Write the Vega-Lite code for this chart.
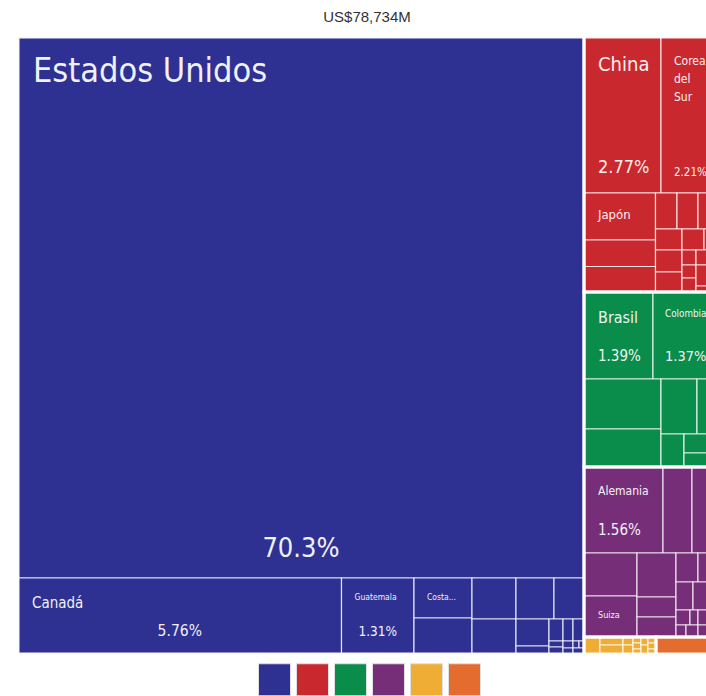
{
  "$schema": "https://vega.github.io/schema/vega-lite/v6.json",
  "autosize": {"type": "none"},
  "padding": {"left": 18, "top": 37, "right": 0, "bottom": 42},
  "width": 688,
  "height": 617,
  "background": "white",
  "title": {"text": "US$78,734M", "anchor": "middle", "dx": 5, "offset": 12, "font": "Liberation Sans", "fontSize": 15, "fontWeight": "normal", "color": "#333333"},
  "config": {"view": {"stroke": null}, "text": {"font": "DejaVu Sans Condensed", "color": "#ffffff", "opacity": 0.93}},
  "data": {"values": [
    {"name": "Estados Unidos", "region": "América del Norte", "share": 0.703, "x0": 0, "x1": 566, "y0": 0, "y1": 541},
    {"name": "Canadá", "region": "América del Norte", "share": 0.0576, "x0": 0, "x1": 323.5, "y0": 541, "y1": 617},
    {"name": "Guatemala", "region": "América del Norte", "share": 0.0131, "x0": 323.5, "x1": 396, "y0": 541, "y1": 617},
    {"name": "Costa Rica", "region": "América del Norte", "x0": 396, "x1": 454, "y0": 541, "y1": 581},
    {"name": "Honduras", "region": "América del Norte", "x0": 396, "x1": 454, "y0": 581, "y1": 617},
    {"name": "El Salvador", "region": "América del Norte", "x0": 454, "x1": 498, "y0": 541, "y1": 582},
    {"name": "Panamá", "region": "América del Norte", "x0": 454, "x1": 498, "y0": 582, "y1": 617},
    {"name": "Nicaragua", "region": "América del Norte", "x0": 498, "x1": 536, "y0": 541, "y1": 582},
    {"name": "Puerto Rico", "region": "América del Norte", "x0": 536, "x1": 566, "y0": 541, "y1": 582},
    {"name": "República Dominicana", "region": "América del Norte", "x0": 498, "x1": 531, "y0": 582, "y1": 609},
    {"name": "Jamaica", "region": "América del Norte", "x0": 498, "x1": 531, "y0": 609, "y1": 617},
    {"name": "Belice", "region": "América del Norte", "x0": 531, "x1": 545, "y0": 582, "y1": 604},
    {"name": "Trinidad y Tobago", "region": "América del Norte", "x0": 545, "x1": 555, "y0": 582, "y1": 604},
    {"name": "Cuba", "region": "América del Norte", "x0": 555, "x1": 566, "y0": 582, "y1": 604},
    {"name": "Haití", "region": "América del Norte", "x0": 531, "x1": 545, "y0": 604, "y1": 610},
    {"name": "Bahamas", "region": "América del Norte", "x0": 531, "x1": 545, "y0": 610, "y1": 617},
    {"name": "Barbados", "region": "América del Norte", "x0": 545, "x1": 555, "y0": 604, "y1": 611},
    {"name": "Aruba", "region": "América del Norte", "x0": 545, "x1": 555, "y0": 611, "y1": 617},
    {"name": "Curazao", "region": "América del Norte", "x0": 555, "x1": 561, "y0": 604, "y1": 611},
    {"name": "Islas Caimán", "region": "América del Norte", "x0": 561, "x1": 566, "y0": 604, "y1": 611},
    {"name": "Bermudas", "region": "América del Norte", "x0": 555, "x1": 566, "y0": 611, "y1": 617},

    {"name": "China", "region": "Asia", "share": 0.0277, "x0": 566, "x1": 643, "y0": 0, "y1": 156},
    {"name": "Corea del Sur", "region": "Asia", "share": 0.0221, "x0": 643, "x1": 703, "y0": 0, "y1": 156},
    {"name": "Japón", "region": "Asia", "x0": 566, "x1": 637.5, "y0": 156, "y1": 203},
    {"name": "India", "region": "Asia", "x0": 566, "x1": 637.5, "y0": 203, "y1": 229.5},
    {"name": "Taiwán", "region": "Asia", "x0": 566, "x1": 637.5, "y0": 229.5, "y1": 255},
    {"name": "Malasia", "region": "Asia", "x0": 637.5, "x1": 659, "y0": 156, "y1": 192},
    {"name": "Singapur", "region": "Asia", "x0": 659, "x1": 680, "y0": 156, "y1": 192},
    {"name": "Vietnam", "region": "Asia", "x0": 680, "x1": 703, "y0": 156, "y1": 192},
    {"name": "Hong Kong", "region": "Asia", "x0": 637.5, "x1": 664, "y0": 192, "y1": 213},
    {"name": "Tailandia", "region": "Asia", "x0": 664, "x1": 686, "y0": 192, "y1": 213},
    {"name": "Emiratos Árabes Unidos", "region": "Asia", "x0": 686, "x1": 703, "y0": 192, "y1": 213},
    {"name": "Indonesia", "region": "Asia", "x0": 637.5, "x1": 664, "y0": 213, "y1": 235},
    {"name": "Filipinas", "region": "Asia", "x0": 637.5, "x1": 664, "y0": 235, "y1": 255},
    {"name": "Israel", "region": "Asia", "x0": 664, "x1": 678, "y0": 213, "y1": 228},
    {"name": "Turquía", "region": "Asia", "x0": 664, "x1": 678, "y0": 228, "y1": 241},
    {"name": "Arabia Saudita", "region": "Asia", "x0": 664, "x1": 678, "y0": 241, "y1": 255},
    {"name": "Pakistán", "region": "Asia", "x0": 678, "x1": 703, "y0": 213, "y1": 228},
    {"name": "Bangladés", "region": "Asia", "x0": 678, "x1": 703, "y0": 228, "y1": 249},
    {"name": "Qatar", "region": "Asia", "x0": 678, "x1": 703, "y0": 249, "y1": 255},

    {"name": "Brasil", "region": "América del Sur", "share": 0.0139, "x0": 566, "x1": 635, "y0": 255, "y1": 342},
    {"name": "Colombia", "region": "América del Sur", "share": 0.0137, "x0": 635, "x1": 703, "y0": 255, "y1": 342},
    {"name": "Chile", "region": "América del Sur", "x0": 566, "x1": 643, "y0": 342, "y1": 392},
    {"name": "Perú", "region": "América del Sur", "x0": 566, "x1": 643, "y0": 392, "y1": 430},
    {"name": "Argentina", "region": "América del Sur", "x0": 643, "x1": 679, "y0": 342, "y1": 397},
    {"name": "Ecuador", "region": "América del Sur", "x0": 679, "x1": 703, "y0": 342, "y1": 397},
    {"name": "Venezuela", "region": "América del Sur", "x0": 643, "x1": 666, "y0": 397, "y1": 430},
    {"name": "Uruguay", "region": "América del Sur", "x0": 666, "x1": 703, "y0": 397, "y1": 416},
    {"name": "Paraguay", "region": "América del Sur", "x0": 666, "x1": 703, "y0": 416, "y1": 430},

    {"name": "Alemania", "region": "Europa", "share": 0.0156, "x0": 566, "x1": 645, "y0": 430, "y1": 516},
    {"name": "España", "region": "Europa", "x0": 645, "x1": 674, "y0": 430, "y1": 516},
    {"name": "Países Bajos", "region": "Europa", "x0": 674, "x1": 703, "y0": 430, "y1": 516},
    {"name": "Reino Unido", "region": "Europa", "x0": 566, "x1": 619, "y0": 516, "y1": 559},
    {"name": "Suiza", "region": "Europa", "x0": 566, "x1": 619, "y0": 559, "y1": 600},
    {"name": "Francia", "region": "Europa", "x0": 619, "x1": 658, "y0": 516, "y1": 560},
    {"name": "Italia", "region": "Europa", "x0": 619, "x1": 658, "y0": 560, "y1": 580},
    {"name": "Bélgica", "region": "Europa", "x0": 619, "x1": 658, "y0": 580, "y1": 600},
    {"name": "Irlanda", "region": "Europa", "x0": 658, "x1": 680, "y0": 516, "y1": 545},
    {"name": "Rusia", "region": "Europa", "x0": 680, "x1": 703, "y0": 516, "y1": 545},
    {"name": "Polonia", "region": "Europa", "x0": 658, "x1": 675, "y0": 545, "y1": 573},
    {"name": "Suecia", "region": "Europa", "x0": 675, "x1": 703, "y0": 545, "y1": 573},
    {"name": "Austria", "region": "Europa", "x0": 658, "x1": 672, "y0": 573, "y1": 588},
    {"name": "Portugal", "region": "Europa", "x0": 672, "x1": 680, "y0": 573, "y1": 588},
    {"name": "Dinamarca", "region": "Europa", "x0": 680, "x1": 703, "y0": 573, "y1": 588},
    {"name": "Hungría", "region": "Europa", "x0": 658, "x1": 668, "y0": 588, "y1": 600},
    {"name": "República Checa", "region": "Europa", "x0": 668, "x1": 680, "y0": 588, "y1": 600},
    {"name": "Noruega", "region": "Europa", "x0": 680, "x1": 703, "y0": 588, "y1": 600},

    {"name": "Sudáfrica", "region": "África", "x0": 566, "x1": 582, "y0": 600, "y1": 617},
    {"name": "Nigeria", "region": "África", "x0": 582, "x1": 605, "y0": 600, "y1": 608},
    {"name": "Egipto", "region": "África", "x0": 582, "x1": 605, "y0": 608, "y1": 617},
    {"name": "Marruecos", "region": "África", "x0": 605, "x1": 615, "y0": 600, "y1": 608},
    {"name": "Argelia", "region": "África", "x0": 605, "x1": 615, "y0": 608, "y1": 617},
    {"name": "Ghana", "region": "África", "x0": 615, "x1": 623, "y0": 600, "y1": 606},
    {"name": "Kenia", "region": "África", "x0": 615, "x1": 623, "y0": 606, "y1": 612},
    {"name": "Angola", "region": "África", "x0": 615, "x1": 623, "y0": 612, "y1": 617},
    {"name": "Túnez", "region": "África", "x0": 623, "x1": 630, "y0": 600, "y1": 608},
    {"name": "Etiopía", "region": "África", "x0": 623, "x1": 630, "y0": 608, "y1": 617},
    {"name": "Senegal", "region": "África", "x0": 630, "x1": 638, "y0": 600, "y1": 606},
    {"name": "Tanzania", "region": "África", "x0": 630, "x1": 638, "y0": 606, "y1": 612},
    {"name": "Costa de Marfil", "region": "África", "x0": 630, "x1": 638, "y0": 612, "y1": 617},

    {"name": "Australia", "region": "Oceanía", "x0": 638, "x1": 703, "y0": 600, "y1": 617}
  ]},
  "transform": [{"calculate": "(datum.x0 + datum.x1) / 2", "as": "xm"}],
  "layer": [
    {
      "mark": {"type": "rect", "clip": true, "stroke": "#ffffff", "strokeWidth": 1.2, "strokeOpacity": 0.8},
      "encoding": {
        "x": {"field": "x0", "type": "quantitative", "axis": null, "scale": {"domain": [0, 688], "nice": false, "zero": false}},
        "x2": {"field": "x1"},
        "y": {"field": "y0", "type": "quantitative", "axis": null, "scale": {"domain": [0, 617], "nice": false, "zero": false, "reverse": true}},
        "y2": {"field": "y1"},
        "color": {
          "field": "region", "type": "nominal",
          "scale": {"domain": ["América del Norte", "Asia", "América del Sur", "Europa", "África", "Oceanía"], "range": ["#2e3192", "#c9292e", "#0a8c4b", "#762e79", "#f0ad35", "#e46c2f"]},
          "legend": {"orient": "none", "legendX": 240, "legendY": 626, "direction": "horizontal", "columns": 6, "title": null, "labelExpr": "''", "labelOffset": 0, "labelFontSize": 1, "symbolType": "square", "symbolSize": 1024, "columnPadding": 1, "symbolStrokeColor": "#e0e0e0", "symbolStrokeWidth": 1, "symbolOpacity": 1, "padding": 0, "offset": 0}
        }
      }
    },
    {
      "transform": [{"aggregate": [{"op": "min", "field": "x0", "as": "rx0"}, {"op": "max", "field": "x1", "as": "rx1"}, {"op": "min", "field": "y0", "as": "ry0"}, {"op": "max", "field": "y1", "as": "ry1"}], "groupby": ["region"]}],
      "mark": {"type": "rect", "clip": true, "filled": false, "stroke": "#ffffff", "strokeWidth": 3, "strokeOpacity": 0.95},
      "encoding": {
        "x": {"field": "rx0", "type": "quantitative", "axis": null, "scale": {"domain": [0, 688], "nice": false, "zero": false}},
        "x2": {"field": "rx1"},
        "y": {"field": "ry0", "type": "quantitative", "axis": null, "scale": {"domain": [0, 617], "nice": false, "zero": false, "reverse": true}},
        "y2": {"field": "ry1"}
      }
    },
    {"transform": [{"filter": "datum.name == 'Estados Unidos'"}], "mark": {"type": "text", "clip": true, "align": "left", "baseline": "alphabetic", "fontSize": 34, "dx": 15, "dy": 45},
     "encoding": {"x": {"field": "x0", "type": "quantitative", "axis": null, "scale": {"domain": [0, 688], "nice": false, "zero": false}}, "y": {"field": "y0", "type": "quantitative", "axis": null, "scale": {"domain": [0, 617], "nice": false, "zero": false, "reverse": true}}, "text": {"field": "name"}}},
    {"transform": [{"filter": "datum.name == 'China'"}], "mark": {"type": "text", "clip": true, "align": "left", "baseline": "alphabetic", "fontSize": 20, "dx": 14, "dy": 34},
     "encoding": {"x": {"field": "x0", "type": "quantitative", "axis": null, "scale": {"domain": [0, 688], "nice": false, "zero": false}}, "y": {"field": "y0", "type": "quantitative", "axis": null, "scale": {"domain": [0, 617], "nice": false, "zero": false, "reverse": true}}, "text": {"field": "name"}}},
    {"transform": [{"filter": "datum.name == 'Corea del Sur'"}], "mark": {"type": "text", "clip": true, "align": "left", "baseline": "alphabetic", "fontSize": 12, "dx": 13, "dy": 28, "lineBreak": " ", "lineHeight": 18},
     "encoding": {"x": {"field": "x0", "type": "quantitative", "axis": null, "scale": {"domain": [0, 688], "nice": false, "zero": false}}, "y": {"field": "y0", "type": "quantitative", "axis": null, "scale": {"domain": [0, 617], "nice": false, "zero": false, "reverse": true}}, "text": {"field": "name"}}},
    {"transform": [{"filter": "datum.name == 'Japón'"}], "mark": {"type": "text", "clip": true, "align": "left", "baseline": "alphabetic", "fontSize": 13, "dx": 14, "dy": 26},
     "encoding": {"x": {"field": "x0", "type": "quantitative", "axis": null, "scale": {"domain": [0, 688], "nice": false, "zero": false}}, "y": {"field": "y0", "type": "quantitative", "axis": null, "scale": {"domain": [0, 617], "nice": false, "zero": false, "reverse": true}}, "text": {"field": "name"}}},
    {"transform": [{"filter": "datum.name == 'Brasil'"}], "mark": {"type": "text", "clip": true, "align": "left", "baseline": "alphabetic", "fontSize": 16, "dx": 14, "dy": 31},
     "encoding": {"x": {"field": "x0", "type": "quantitative", "axis": null, "scale": {"domain": [0, 688], "nice": false, "zero": false}}, "y": {"field": "y0", "type": "quantitative", "axis": null, "scale": {"domain": [0, 617], "nice": false, "zero": false, "reverse": true}}, "text": {"field": "name"}}},
    {"transform": [{"filter": "datum.name == 'Colombia'"}], "mark": {"type": "text", "clip": true, "align": "left", "baseline": "alphabetic", "fontSize": 9.8, "dx": 12, "dy": 25},
     "encoding": {"x": {"field": "x0", "type": "quantitative", "axis": null, "scale": {"domain": [0, 688], "nice": false, "zero": false}}, "y": {"field": "y0", "type": "quantitative", "axis": null, "scale": {"domain": [0, 617], "nice": false, "zero": false, "reverse": true}}, "text": {"field": "name"}}},
    {"transform": [{"filter": "datum.name == 'Alemania'"}], "mark": {"type": "text", "clip": true, "align": "left", "baseline": "alphabetic", "fontSize": 12, "dx": 14, "dy": 28},
     "encoding": {"x": {"field": "x0", "type": "quantitative", "axis": null, "scale": {"domain": [0, 688], "nice": false, "zero": false}}, "y": {"field": "y0", "type": "quantitative", "axis": null, "scale": {"domain": [0, 617], "nice": false, "zero": false, "reverse": true}}, "text": {"field": "name"}}},
    {"transform": [{"filter": "datum.name == 'Suiza'"}], "mark": {"type": "text", "clip": true, "align": "left", "baseline": "alphabetic", "fontSize": 9, "dx": 14, "dy": 22},
     "encoding": {"x": {"field": "x0", "type": "quantitative", "axis": null, "scale": {"domain": [0, 688], "nice": false, "zero": false}}, "y": {"field": "y0", "type": "quantitative", "axis": null, "scale": {"domain": [0, 617], "nice": false, "zero": false, "reverse": true}}, "text": {"field": "name"}}},
    {"transform": [{"filter": "datum.name == 'Canadá'"}], "mark": {"type": "text", "clip": true, "align": "left", "baseline": "alphabetic", "fontSize": 15, "dx": 14, "dy": 30},
     "encoding": {"x": {"field": "x0", "type": "quantitative", "axis": null, "scale": {"domain": [0, 688], "nice": false, "zero": false}}, "y": {"field": "y0", "type": "quantitative", "axis": null, "scale": {"domain": [0, 617], "nice": false, "zero": false, "reverse": true}}, "text": {"field": "name"}}},
    {"transform": [{"filter": "datum.name == 'Guatemala'"}], "mark": {"type": "text", "clip": true, "align": "left", "baseline": "alphabetic", "fontSize": 8.5, "dx": 13, "dy": 22},
     "encoding": {"x": {"field": "x0", "type": "quantitative", "axis": null, "scale": {"domain": [0, 688], "nice": false, "zero": false}}, "y": {"field": "y0", "type": "quantitative", "axis": null, "scale": {"domain": [0, 617], "nice": false, "zero": false, "reverse": true}}, "text": {"field": "name"}}},
    {"transform": [{"filter": "datum.name == 'Costa Rica'"}], "mark": {"type": "text", "clip": true, "align": "left", "baseline": "alphabetic", "fontSize": 8.5, "dx": 13, "dy": 22, "limit": 31, "ellipsis": "..."},
     "encoding": {"x": {"field": "x0", "type": "quantitative", "axis": null, "scale": {"domain": [0, 688], "nice": false, "zero": false}}, "y": {"field": "y0", "type": "quantitative", "axis": null, "scale": {"domain": [0, 617], "nice": false, "zero": false, "reverse": true}}, "text": {"field": "name"}}},
    {"transform": [{"filter": "datum.name == 'Estados Unidos'"}], "mark": {"type": "text", "clip": true, "align": "center", "baseline": "alphabetic", "fontSize": 27, "dy": -21},
     "encoding": {"x": {"field": "xm", "type": "quantitative", "axis": null, "scale": {"domain": [0, 688], "nice": false, "zero": false}}, "y": {"field": "y1", "type": "quantitative", "axis": null, "scale": {"domain": [0, 617], "nice": false, "zero": false, "reverse": true}}, "text": {"field": "share", "format": ".3p"}}},
    {"transform": [{"filter": "datum.name == 'China'"}], "mark": {"type": "text", "clip": true, "align": "left", "baseline": "alphabetic", "fontSize": 18, "dx": 14, "dy": -20},
     "encoding": {"x": {"field": "x0", "type": "quantitative", "axis": null, "scale": {"domain": [0, 688], "nice": false, "zero": false}}, "y": {"field": "y1", "type": "quantitative", "axis": null, "scale": {"domain": [0, 617], "nice": false, "zero": false, "reverse": true}}, "text": {"field": "share", "format": ".3p"}}},
    {"transform": [{"filter": "datum.name == 'Corea del Sur'"}], "mark": {"type": "text", "clip": true, "align": "left", "baseline": "alphabetic", "fontSize": 11.5, "dx": 13, "dy": -17},
     "encoding": {"x": {"field": "x0", "type": "quantitative", "axis": null, "scale": {"domain": [0, 688], "nice": false, "zero": false}}, "y": {"field": "y1", "type": "quantitative", "axis": null, "scale": {"domain": [0, 617], "nice": false, "zero": false, "reverse": true}}, "text": {"field": "share", "format": ".3p"}}},
    {"transform": [{"filter": "datum.name == 'Brasil' || datum.name == 'Alemania'"}], "mark": {"type": "text", "clip": true, "align": "left", "baseline": "alphabetic", "fontSize": 15, "dx": 14, "dy": -18},
     "encoding": {"x": {"field": "x0", "type": "quantitative", "axis": null, "scale": {"domain": [0, 688], "nice": false, "zero": false}}, "y": {"field": "y1", "type": "quantitative", "axis": null, "scale": {"domain": [0, 617], "nice": false, "zero": false, "reverse": true}}, "text": {"field": "share", "format": ".3p"}}},
    {"transform": [{"filter": "datum.name == 'Colombia'"}], "mark": {"type": "text", "clip": true, "align": "left", "baseline": "alphabetic", "fontSize": 14.5, "dx": 12, "dy": -18},
     "encoding": {"x": {"field": "x0", "type": "quantitative", "axis": null, "scale": {"domain": [0, 688], "nice": false, "zero": false}}, "y": {"field": "y1", "type": "quantitative", "axis": null, "scale": {"domain": [0, 617], "nice": false, "zero": false, "reverse": true}}, "text": {"field": "share", "format": ".3p"}}},
    {"transform": [{"filter": "datum.name == 'Canadá'"}], "mark": {"type": "text", "clip": true, "align": "center", "baseline": "alphabetic", "fontSize": 15.5, "dy": -18},
     "encoding": {"x": {"field": "xm", "type": "quantitative", "axis": null, "scale": {"domain": [0, 688], "nice": false, "zero": false}}, "y": {"field": "y1", "type": "quantitative", "axis": null, "scale": {"domain": [0, 617], "nice": false, "zero": false, "reverse": true}}, "text": {"field": "share", "format": ".3p"}}},
    {"transform": [{"filter": "datum.name == 'Guatemala'"}], "mark": {"type": "text", "clip": true, "align": "center", "baseline": "alphabetic", "fontSize": 13.5, "dy": -18},
     "encoding": {"x": {"field": "xm", "type": "quantitative", "axis": null, "scale": {"domain": [0, 688], "nice": false, "zero": false}}, "y": {"field": "y1", "type": "quantitative", "axis": null, "scale": {"domain": [0, 617], "nice": false, "zero": false, "reverse": true}}, "text": {"field": "share", "format": ".3p"}}}
  ]
}
